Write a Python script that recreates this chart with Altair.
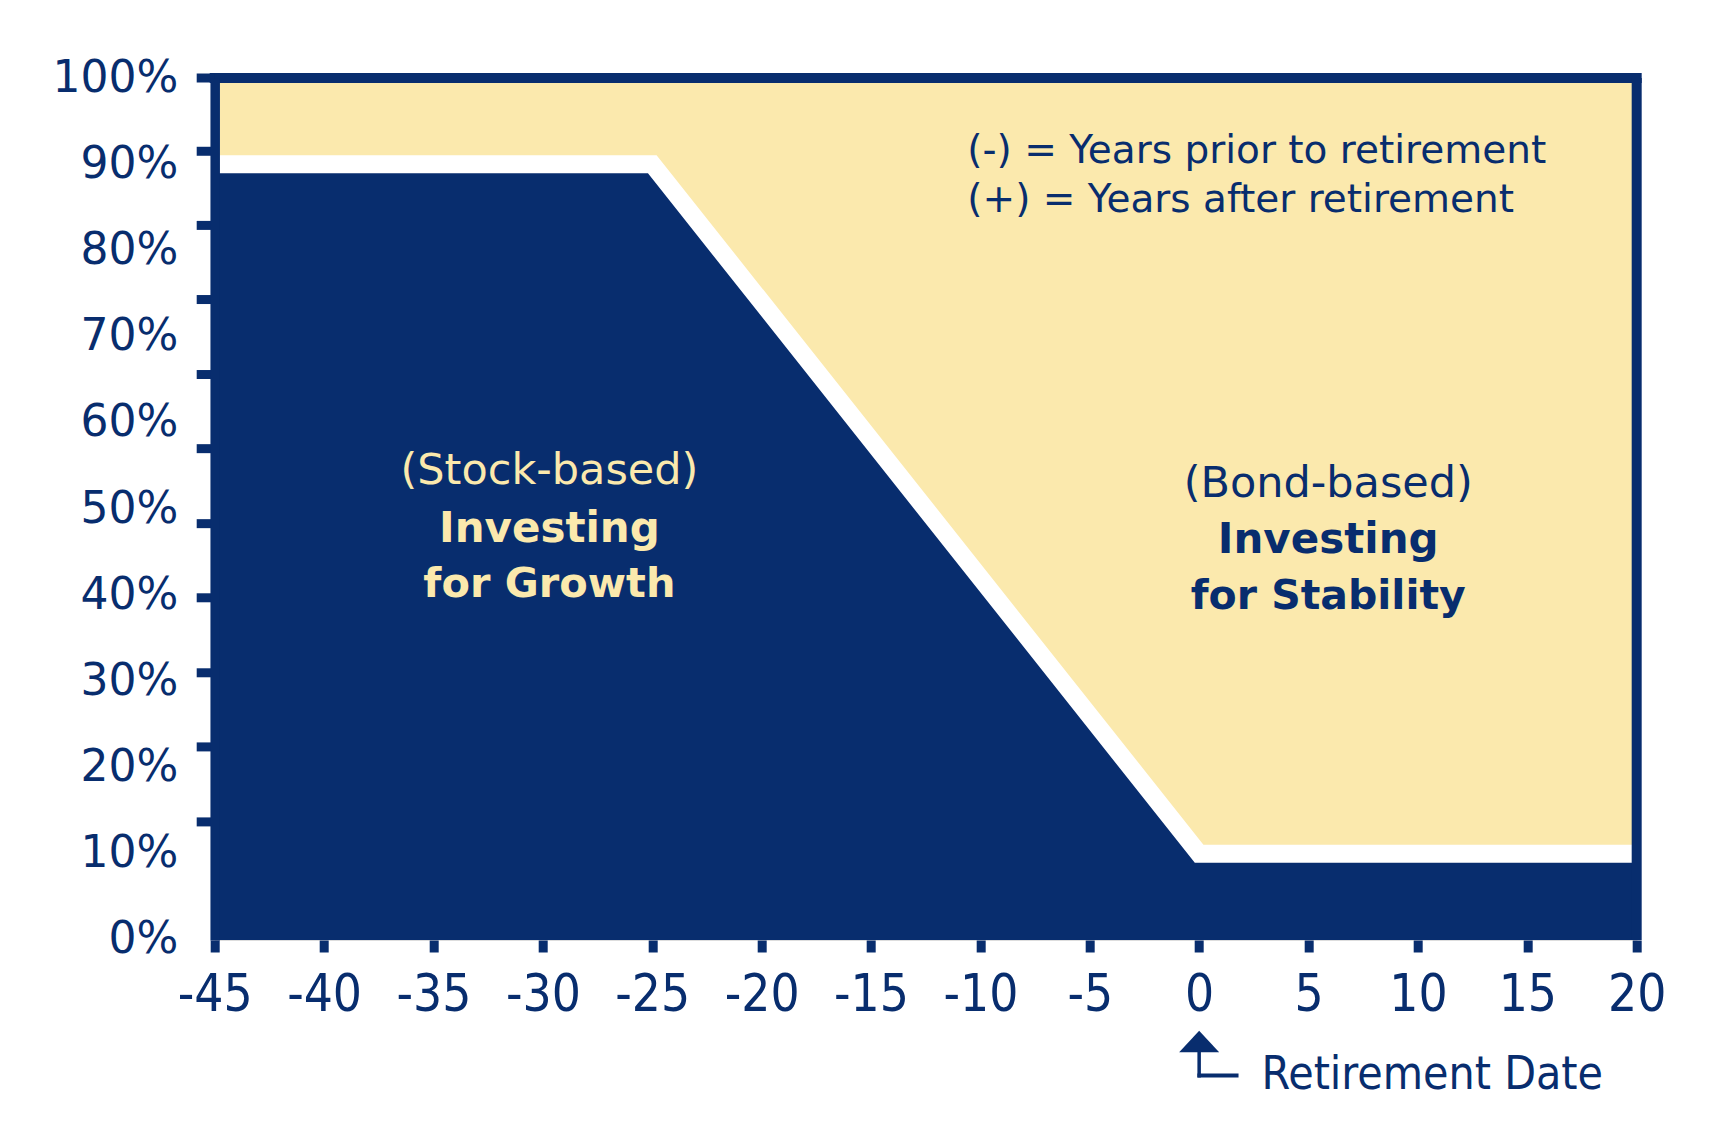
import altair as alt
import pandas as pd

# ---- data ----
years = [-45, -25, 0, 20]
stocks = [90, 90, 10, 10]
bonds = [10, 10, 90, 90]
x_ticks = [-45, -40, -35, -30, -25, -20, -15, -10, -5, 0, 5, 10, 15, 20]
y_labels = [0, 10, 20, 30, 40, 50, 60, 70, 80, 90, 100]
y_tick_marks = [100, 91.5, 82.9, 74.3, 65.6, 57.0, 48.3, 39.7, 31.0, 22.4, 13.7]

NAVY = "#082D6E"
YELLOW = "#FBE9AD"
W, H = 1422, 862
COND = "'DejaVu Sans Condensed', 'Liberation Sans Narrow', 'Roboto Condensed', 'DejaVu Sans'"
SANS = "DejaVu Sans"

df = pd.DataFrame({"year": years, "stocks": stocks, "bonds": bonds})
ticks_df = pd.DataFrame({"tick": y_tick_marks})
one = pd.DataFrame({"k": [0]})

xscale = alt.Scale(domain=[-45, 20], nice=False, zero=False)
yscale = alt.Scale(domain=[0, 100], nice=False)

xaxis = alt.Axis(
    values=x_ticks, title=None, domain=False, grid=False,
    tickColor=NAVY, tickWidth=9, tickSize=12,
    labelColor=NAVY, labelFont=COND, labelFontSize=51, labelPadding=19,
    labelFlush=False, labelOverlap=False, labelExpr="'' + datum.value", zindex=1,
)
yaxis = alt.Axis(
    values=y_labels, title=None, grid=False, ticks=False, tickSize=0,
    domain=True, domainColor=NAVY, domainWidth=9.5,
    labelColor=NAVY, labelFont=SANS, labelFontSize=44, labelPadding=37,
    labelOverlap=False, labelExpr="datum.value + '%'", zindex=1,
)

base = alt.Chart(df)
x_enc = alt.X("year:Q", scale=xscale, axis=xaxis)

dark = base.mark_area(color=NAVY, opacity=1).encode(
    x=x_enc, y=alt.Y("stocks:Q", scale=yscale, axis=yaxis), y2=alt.datum(0)
)
light = base.transform_calculate(top="datum.stocks + datum.bonds").mark_area(
    color=YELLOW, opacity=1
).encode(x="year:Q", y="stocks:Q", y2="top:Q")
white = base.mark_line(
    color="white", strokeWidth=18, strokeJoin="miter", strokeCap="butt"
).encode(x="year:Q", y="stocks:Q")

top_border = alt.Chart(one).mark_rule(color=NAVY, strokeWidth=10, strokeCap="square").encode(
    x=alt.datum(-45), x2=alt.datum(20), y=alt.datum(100)
)
right_border = alt.Chart(one).mark_rule(color=NAVY, strokeWidth=10).encode(
    x=alt.datum(20), y=alt.datum(0), y2=alt.datum(100)
)
ytick_rules = alt.Chart(ticks_df).mark_rule(color=NAVY, strokeWidth=9).encode(
    y="tick:Q", x=alt.value(-18), x2=alt.value(0)
)


def txt(s, x, y, color, size, weight="normal", align="center", font=SANS):
    return alt.Chart(one).mark_text(
        text=s, color=color, fontSize=size, fontWeight=weight, font=font,
        align=align, baseline="alphabetic",
    ).encode(x=alt.datum(x), y=alt.datum(y))


notes = [
    txt("(-) = Years prior to retirement", -10.6, 90.1, NAVY, 39, align="left"),
    txt("(+) = Years after retirement", -10.6, 84.4, NAVY, 39, align="left"),
    txt("(Stock-based)", -29.7, 52.9, YELLOW, 43),
    txt("Investing", -29.7, 46.2, YELLOW, 42, "bold"),
    txt("for Growth", -29.7, 39.8, YELLOW, 41.5, "bold"),
    txt("(Bond-based)", 5.9, 51.4, NAVY, 43),
    txt("Investing", 5.9, 44.9, NAVY, 42, "bold"),
    txt("for Stability", 5.9, 38.4, NAVY, 41, "bold"),
]

arrow_head = alt.Chart(one).mark_point(
    shape="M-1,0.54L0,-0.54L1,0.54Z", size=1600, filled=True, color=NAVY, opacity=1
).encode(x=alt.datum(0), y=alt.value(H + 101.5))
stem = alt.Chart(one).mark_rule(color=NAVY, strokeWidth=3.5).encode(
    x=alt.datum(0), y=alt.value(H + 110), y2=alt.value(H + 137.5)
)
foot = alt.Chart(one).mark_rule(color=NAVY, strokeWidth=4).encode(
    x=alt.datum(-0.08), x2=alt.datum(1.8), y=alt.value(H + 135.5)
)
ret_label = alt.Chart(one).mark_text(
    text="Retirement Date", color=NAVY, fontSize=46, font=COND,
    align="left", baseline="alphabetic",
).encode(x=alt.datum(2.85), y=alt.value(H + 149.5))

chart = alt.layer(
    dark, light, white, top_border, right_border, ytick_rules,
    *notes, arrow_head, stem, foot, ret_label,
).properties(
    width=W, height=H,
    padding={"left": 206.7, "top": 70, "right": 80, "bottom": 170},
    autosize=alt.AutoSizeParams(type="none"),
).configure_view(stroke=None).configure(background="white")

chart.save("out.html", embed_options={"renderer": "svg", "actions": False})
